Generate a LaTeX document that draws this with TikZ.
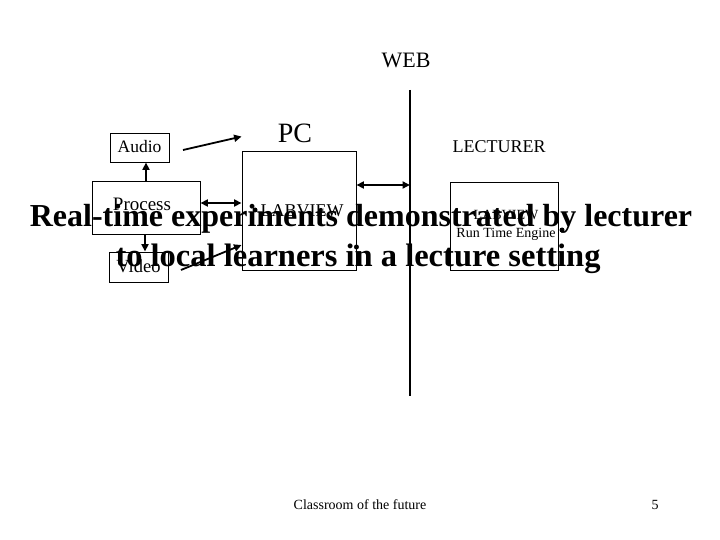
\documentclass[tikz,border=0pt]{standalone}
\usepackage{fontspec}
\setmainfont{Liberation Serif}
\usetikzlibrary{arrows.meta}
\begin{document}
\begin{tikzpicture}[x=1pt,y=-1pt,
  box/.style={draw,line width=0.9pt,inner sep=0pt},
  conn/.style={line width=1.8pt,-{Triangle[length=7.5pt,width=7pt]}},
  dconn/.style={line width=1.8pt,{Triangle[length=7.5pt,width=7pt]}-{Triangle[length=7.5pt,width=7pt]}},
  txt/.style={inner sep=0pt,anchor=base},
  dot/.style={circle,fill,inner sep=0pt,minimum size=5pt}]
\useasboundingbox (0,0) rectangle (720,540);
% boxes
\node[box,minimum width=59pt,minimum height=29pt] (audio) at (139.5,147.5) {};
\node[box,minimum width=108pt,minimum height=53pt] (process) at (146,207.5) {};
\node[box,minimum width=59pt,minimum height=30pt] (video) at (139,267) {};
\node[box,minimum width=114pt,minimum height=119pt] (pc) at (299,210.5) {};
\node[box,minimum width=108pt,minimum height=88pt] (lect) at (504,226) {};
% box texts
\node[txt,font=\fontsize{17.5}{17.5}\selectfont] (taudio) at (139.5,153) {Audio};
\node[txt,font=\fontsize{19}{19}\selectfont] (tprocess) at (142,211) {Process};
\node[txt,font=\fontsize{18.5}{18.5}\selectfont] (tvideo) at (138.5,272) {Video};
\node[txt,font=\fontsize{28}{28}\selectfont] (tpc) at (295,143) {PC};
\node[txt,font=\fontsize{18}{18}\selectfont] (tlab) at (302,217) {LABVIEW};
\node[dot] (d1) at (255,210) {};
\node[txt,font=\fontsize{18}{18}\selectfont] (tlect) at (499,153) {LECTURER};
\node[txt,font=\fontsize{14}{14}\selectfont] (tlab2) at (506,219) {LABVIEW};
\node[txt,font=\fontsize{14}{14}\selectfont] (trte) at (506,237) {Run Time Engine};
\node[dot] (d2) at (562,230) {};
\node[dot] (d3) at (pc.east |- 0,247) {};
\node[txt,font=\fontsize{22}{22}\selectfont] (tweb) at (406,68) {WEB};
% web line
\coordinate (wtop) at (410,90);
\coordinate (wbot) at (410,396);
\draw[line width=1.5pt] (wtop) -- (wbot);
% connectors
\coordinate (aS) at (183,150);
\draw[conn] (aS) -- ([yshift=14pt]pc.north west);
\draw[conn] (process.north -| 146,0) -- (audio.south -| 146,0);
\draw[conn] (process.south -| 145,0) -- (video.north -| 145,0);
\draw[dconn] (process.east |- 0,203) -- (pc.west |- 0,203);
\draw[conn] ([xshift=12pt,yshift=-3pt]video.east) -- (pc.west |- 0,245);
\draw[dconn] (pc.east |- 0,185) -- (wtop |- 0,185);
% title
\node[txt,font=\bfseries\fontsize{32}{32}\selectfont] (t1) at (361,226) {Real-time experiments demonstrated by lecturer};
\node[txt,font=\bfseries\fontsize{32.5}{32.5}\selectfont] (t2) at (358,266) {to local learners in a lecture setting};
% footer
\node[txt,font=\fontsize{14}{14}\selectfont] (foot) at (360,509) {Classroom of the future};
\node[txt,font=\fontsize{14}{14}\selectfont] (pg) at (655,509) {5};
\end{tikzpicture}
\end{document}
